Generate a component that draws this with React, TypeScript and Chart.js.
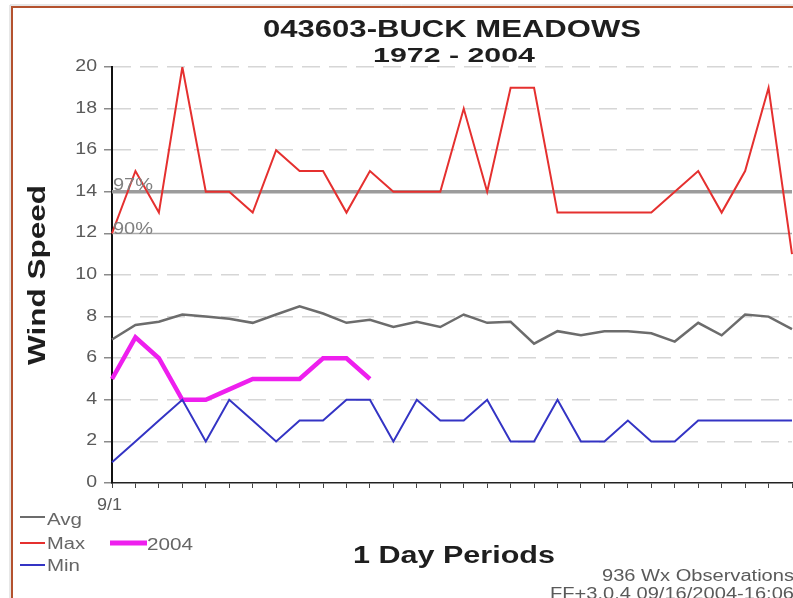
import React, { useEffect, useRef } from 'react';
import { Chart, registerables } from 'chart.js';

Chart.register(...registerables);

// ---------- data ----------
const days = [
  '9/1', '9/2', '9/3', '9/4', '9/5', '9/6', '9/7', '9/8', '9/9', '9/10',
  '9/11', '9/12', '9/13', '9/14', '9/15', '9/16', '9/17', '9/18', '9/19', '9/20',
  '9/21', '9/22', '9/23', '9/24', '9/25', '9/26', '9/27', '9/28', '9/29', '9/30',
];
const maxSpeed = [12, 15, 13, 20, 14, 14, 13, 16, 15, 15, 13, 15, 14, 14, 14, 18, 14, 19, 19, 13, 13, 13, 13, 13, 14, 15, 13, 15, 19, 11];
const avgSpeed = [6.9, 7.6, 7.75, 8.1, 8.0, 7.9, 7.7, 8.1, 8.5, 8.15, 7.7, 7.85, 7.5, 7.75, 7.5, 8.1, 7.7, 7.75, 6.7, 7.3, 7.1, 7.3, 7.3, 7.2, 6.8, 7.7, 7.1, 8.1, 8.0, 7.4];
const minSpeed = [1, 2, 3, 4, 2, 4, 3, 2, 3, 3, 4, 4, 2, 4, 3, 3, 4, 2, 2, 4, 2, 2, 3, 2, 2, 3, 3, 3, 3, 3];
const speed2004 = [5, 7, 6, 4, 4, 4.5, 5, 5, 5, 6, 6, 5];
const yTicks = [0, 2, 4, 6, 8, 10, 12, 14, 16, 18, 20];
const pct97 = 14;
const pct90 = 12;
const pctLabels = ['97%', '90%'];
const titleLines = ['043603-BUCK MEADOWS', '1972 - 2004'];
const yAxisTitle = 'Wind Speed';
const xAxisTitle = '1 Day Periods';
const seriesNames = ['Avg', 'Max', 'Min', '2004'];
const notes = ['936 Wx Observations', 'FF+3.0.4 09/16/2004-16:06'];

// ---------- styles ----------
const FONT = '"Liberation Sans", Arial, Helvetica, sans-serif';
const C_AVG = '#6c6c6c';
const C_MAX = '#e5302f';
const C_MIN = '#3434c4';
const C_2004 = '#ee1fee';
const C_TEXT = '#5a5a5a';
const C_DARK = '#1e1e1e';

type TOpts = {
  size: number;
  bold?: boolean;
  color?: string;
  align?: CanvasTextAlign;
  width?: number;
  sx?: number;
  rot?: boolean;
};

function drawText(ctx: CanvasRenderingContext2D, s: string, x: number, y: number, o: TOpts) {
  ctx.save();
  ctx.font = `${o.bold ? 'bold ' : ''}${o.size}px ${FONT}`;
  ctx.fillStyle = o.color || C_DARK;
  ctx.textAlign = o.align || 'left';
  ctx.textBaseline = 'alphabetic';
  const m = ctx.measureText(s).width;
  const k = o.width ? o.width / m : o.sx ?? 1;
  ctx.translate(x, y);
  if (o.rot) ctx.rotate(-Math.PI / 2);
  ctx.scale(k, 1);
  ctx.fillText(s, 0, 0);
  ctx.restore();
  return k;
}

function line(ctx: CanvasRenderingContext2D, x1: number, y1: number, x2: number, y2: number, color: string, w: number) {
  ctx.save();
  ctx.strokeStyle = color;
  ctx.lineWidth = w;
  ctx.beginPath();
  ctx.moveTo(x1, y1);
  ctx.lineTo(x2, y2);
  ctx.stroke();
  ctx.restore();
}

const decor = {
  id: 'decor',
  beforeDatasetsDraw(chart: any) {
    const { ctx, chartArea } = chart;
    const y = chart.scales.y;
    const y97 = y.getPixelForValue(pct97);
    const y90 = y.getPixelForValue(pct90);
    line(ctx, chartArea.left, y97, chartArea.right, y97, '#9c9c9c', 3.5);
    line(ctx, chartArea.left, y90, chartArea.right, y90, '#a8a8a8', 1.5);
  },
  afterDraw(chart: any) {
    const { ctx, chartArea } = chart;
    const ys = chart.scales.y;
    const xs = chart.scales.x;

    // percent labels
    drawText(ctx, pctLabels[0], chartArea.left + 1, ys.getPixelForValue(pct97) - 2, { size: 16, color: '#808080', width: 40 });
    drawText(ctx, pctLabels[1], chartArea.left + 1, ys.getPixelForValue(pct90) + 1, { size: 16, color: '#808080', width: 40 });

    // y tick labels
    yTicks.forEach((v) => {
      drawText(ctx, String(v), 97, ys.getPixelForValue(v) + 4, { size: 16, color: C_TEXT, align: 'right', sx: 1.22 });
    });
    // first x label
    drawText(ctx, days[0], xs.getPixelForValue(0) - 2.5, 510, { size: 16, color: C_TEXT, align: 'center', width: 25 });

    // titles
    drawText(ctx, titleLines[0], 263, 37, { size: 24, bold: true, color: C_DARK, width: 378 });
    drawText(ctx, titleLines[1], 373, 61.5, { size: 21, bold: true, color: C_DARK, width: 162 });
    drawText(ctx, yAxisTitle, 45, 275, { size: 24, bold: true, color: C_DARK, align: 'center', width: 180, rot: true });
    drawText(ctx, xAxisTitle, 353, 563, { size: 24, bold: true, color: C_DARK, width: 202 });

    // legend
    line(ctx, 20, 517, 45, 517, C_AVG, 2);
    drawText(ctx, seriesNames[0], 47, 525, { size: 16, color: '#666', width: 35 });
    line(ctx, 20, 543, 45, 543, C_MAX, 2);
    drawText(ctx, seriesNames[1], 47, 549, { size: 16, color: '#666', width: 38 });
    line(ctx, 20, 565, 45, 565, C_MIN, 2);
    drawText(ctx, seriesNames[2], 47, 571, { size: 16, color: '#666', width: 33 });
    line(ctx, 110, 543, 147, 543, C_2004, 5);
    drawText(ctx, seriesNames[3], 147, 550, { size: 16, color: '#666', width: 46 });

    // notes
    const k = drawText(ctx, notes[0], 794, 580.5, { size: 16, color: C_TEXT, align: 'right', width: 192 });
    drawText(ctx, notes[1], 794, 599, { size: 16, color: C_TEXT, align: 'right', sx: k });

    // frame
    line(ctx, 10, 598, 10, 5, '#cfcfcf', 1);
    line(ctx, 10, 5, 793, 5, '#cfcfcf', 1);
    ctx.save();
    ctx.strokeStyle = '#b4522e';
    ctx.lineWidth = 2;
    ctx.beginPath();
    ctx.moveTo(12, 598);
    ctx.lineTo(12, 7);
    ctx.lineTo(793, 7);
    ctx.stroke();
    ctx.restore();
  },
};

export default function App() {
  const ref = useRef<HTMLCanvasElement | null>(null);

  useEffect(() => {
    if (!ref.current) return;
    const chart = new Chart(ref.current, {
      type: 'line',
      data: {
        labels: days,
        datasets: [
          { label: seriesNames[0], data: avgSpeed, borderColor: C_AVG, borderWidth: 2.5, pointRadius: 0, tension: 0, fill: false },
          { label: seriesNames[1], data: maxSpeed, borderColor: C_MAX, borderWidth: 2, pointRadius: 0, tension: 0, fill: false },
          { label: seriesNames[2], data: minSpeed, borderColor: C_MIN, borderWidth: 2, pointRadius: 0, tension: 0, fill: false },
          { label: seriesNames[3], data: speed2004, borderColor: C_2004, borderWidth: 4.5, pointRadius: 0, tension: 0, fill: false },
        ],
      },
      options: {
        animation: false,
        responsive: false,
        devicePixelRatio: 1,
        layout: { padding: { left: 104, top: 67, right: 1, bottom: 110 } },
        plugins: {
          legend: { display: false },
          title: { display: false },
          tooltip: { enabled: false },
        },
        scales: {
          x: {
            ticks: { display: false },
            grid: { drawOnChartArea: false, drawTicks: true, tickLength: 5, tickColor: '#444', tickWidth: 1 },
            border: { display: true, color: '#222', width: 1.5 },
          },
          y: {
            min: 0,
            max: 20,
            ticks: { display: false, stepSize: 2 },
            grid: {
              color: (c: any) => (c.tick && (c.tick.value === 0 || c.tick.value === pct90 || c.tick.value === pct97) ? 'rgba(0,0,0,0)' : '#d6d6d6'),
              lineWidth: 1.5,
              drawTicks: true,
              tickLength: 8,
              tickColor: '#8a8a8a',
              tickWidth: 1.5,
              tickBorderDash: [],
            },
            border: { display: true, color: '#111', width: 2, dash: [18, 9] },
          },
        },
      },
      plugins: [decor],
    } as any);
    return () => chart.destroy();
  }, []);

  return (
    <div style={{ position: 'absolute', left: 0, top: 0, width: 793, height: 598, background: '#fff' }}>
      <canvas ref={ref} width={793} height={598} style={{ display: 'block', width: 793, height: 598 }} />
    </div>
  );
}
